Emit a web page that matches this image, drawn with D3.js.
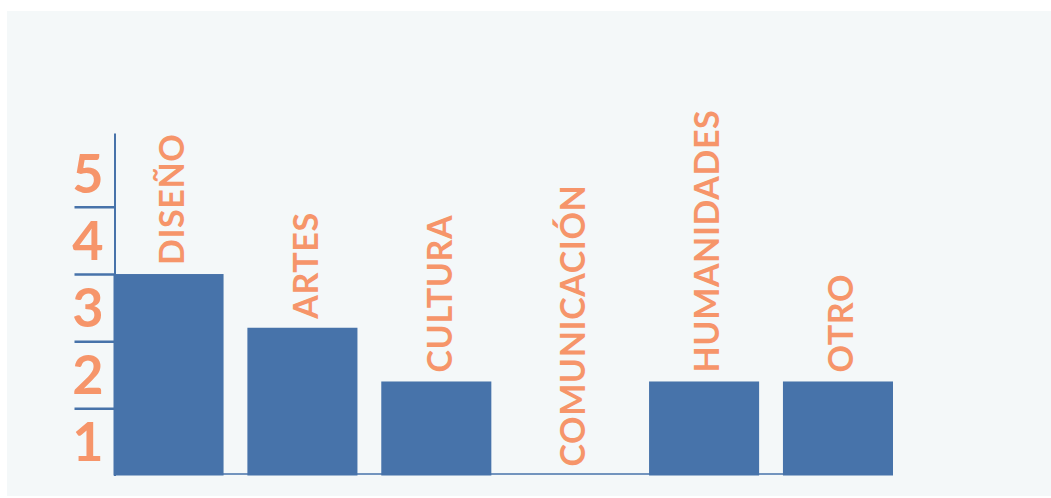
<!DOCTYPE html>
<html>
<head>
<meta charset="utf-8">
<script src="https://cdn.jsdelivr.net/npm/d3@7"></script>
<style>
  html, body { margin: 0; padding: 0; background: #ffffff; }
  svg { display: block; }
</style>
</head>
<body>
<svg id="chart" width="1051" height="498"></svg>
<script>
// Áreas de interés y número de respuestas por área
const categories = ["DISEÑO", "ARTES", "CULTURA", "COMUNICACIÓN", "HUMANIDADES", "OTRO"];
const values = [3, 2.2, 1.4, 0, 1.4, 1.4];

// Escala vertical: marcas entre bandas y etiquetas centradas en cada banda
const tickValues = [1, 2, 3, 4];
const bandLabels = ["1", "2", "3", "4", "5"];
const bandCenters = [0.5, 1.5, 2.5, 3.5, 4.5];

const BLUE = "#4773aa";
const ORANGE = "#f6956a";
const W = 1051, H = 498;

const svg = d3.select("#chart");

// panel de fondo
svg.append("rect")
  .attr("x", 7).attr("y", 11)
  .attr("width", W - 7).attr("height", 485)
  .attr("fill", "#f4f8f9");

const x = d3.scaleBand()
  .domain(categories)
  .range([113.5, 893])
  .paddingInner(0.178)
  .paddingOuter(0);

const y = d3.scaleLinear()
  .domain([0, 5.1])
  .range([475.5, 133]);

// línea base horizontal
svg.append("line")
  .attr("x1", 115).attr("x2", x.range()[1])
  .attr("y1", 474).attr("y2", 474)
  .attr("stroke", BLUE).attr("stroke-width", 1.5);

// eje vertical con marcas largas hacia la izquierda
const axis = d3.axisLeft(y)
  .tickValues(tickValues)
  .tickSize(40)
  .tickSizeOuter(0)
  .tickFormat("");

const gAxis = svg.append("g")
  .attr("transform", "translate(114.5,0)")
  .call(axis);
gAxis.select(".domain").attr("stroke", BLUE).attr("stroke-width", 2);
gAxis.selectAll(".tick line").attr("stroke", BLUE).attr("stroke-width", 2.5);

// barras
svg.append("g")
  .selectAll("rect")
  .data(values)
  .join("rect")
  .attr("x", (d, i) => x(categories[i]))
  .attr("y", d => y(d))
  .attr("width", x.bandwidth())
  .attr("height", d => y(0) - y(d))
  .attr("fill", BLUE);

// números de banda
svg.append("g")
  .selectAll("text")
  .data(bandLabels)
  .join("text")
  .attr("x", 88)
  .attr("y", (d, i) => y(bandCenters[i]))
  .attr("dy", "0.36em")
  .attr("text-anchor", "middle")
  .attr("font-family", "Lato, 'Open Sans', sans-serif")
  .attr("font-weight", 700)
  .attr("font-size", 54)
  .attr("fill", ORANGE)
  .text(d => d);

// nombres de categoría, verticales sobre cada barra
svg.append("g")
  .selectAll("text")
  .data(categories)
  .join("text")
  .attr("transform", (d, i) =>
    `translate(${x(d) + x.bandwidth() / 2 + 3},${y(values[i]) - 9}) rotate(-90)`)
  .attr("dy", "0.36em")
  .attr("text-anchor", "start")
  .attr("font-family", "Lato, 'Open Sans', sans-serif")
  .attr("font-weight", 700)
  .attr("font-size", 34)
  .attr("letter-spacing", 0.6)
  .attr("fill", ORANGE)
  .text(d => d);
</script>
</body>
</html>
